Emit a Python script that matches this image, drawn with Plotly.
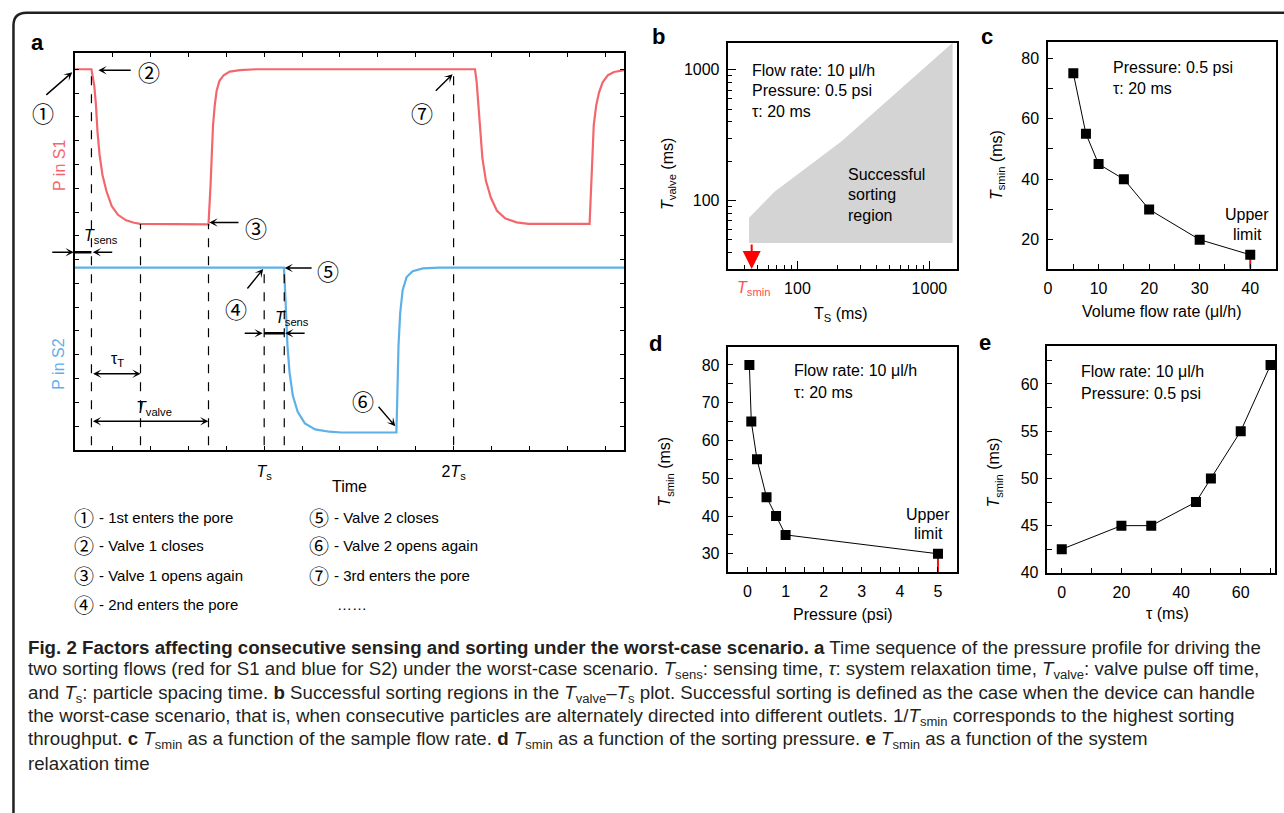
import math
import plotly.graph_objects as go

W, H = 1284, 813
FONT = "Liberation Sans, Arial, sans-serif"
CAPFONT = "Liberation Sans, Arial, sans-serif"
CIRC = "Noto Sans CJK JP, DejaVu Sans, sans-serif"
RED = "#f2676c"
BLUE = "#5db0e8"

def fx(x):
    return x / W

def fy(y):
    return 1 - y / H

# ---------------- data ----------------
# Panel a: schematic pressure profiles (time in units of Ts, pressure arbitrary)
red_time = [0, 0.088, 0.094, 0.103, 0.112, 0.120, 0.131, 0.146, 0.167, 0.195, 0.228, 0.271, 0.313, 0.346,
            0.706, 0.711, 0.717, 0.724, 0.730, 0.739, 0.749, 0.764, 0.786, 0.818, 0.872, 0.958,
            2.113, 2.122, 2.130, 2.139, 2.152, 2.171, 2.197, 2.229, 2.272, 2.332, 2.396,
            2.718, 2.723, 2.732, 2.740, 2.753, 2.768, 2.787, 2.815, 2.847, 2.901]
red_p = [9.60, 9.60, 9.43, 9.18, 8.69, 8.02, 7.44, 6.94, 6.53, 6.15, 5.93, 5.79, 5.73, 5.70,
         5.69, 6.03, 6.69, 7.52, 8.19, 8.69, 9.06, 9.31, 9.45, 9.54, 9.58, 9.60,
         9.60, 9.27, 8.69, 8.02, 7.36, 6.78, 6.36, 6.03, 5.84, 5.74, 5.70,
         5.70, 6.36, 7.36, 8.19, 8.69, 9.02, 9.27, 9.45, 9.53, 9.58]
blue_time = [0, 1.104, 1.108, 1.114, 1.123, 1.134, 1.151, 1.177, 1.215, 1.269, 1.344, 1.408,
             1.698, 1.703, 1.709, 1.718, 1.731, 1.752, 1.784, 1.838, 1.924, 2.9]
blue_p = [4.60, 4.60, 4.28, 3.45, 2.62, 1.95, 1.37, 0.96, 0.67, 0.52, 0.46, 0.44,
          0.44, 1.37, 2.62, 3.45, 4.03, 4.36, 4.51, 4.58, 4.60, 4.60]
guide_t = [0.088, 0.347, 0.706, 1.0, 1.106, 2.0]
guide_top = [9.6, 5.7, 5.7, 4.6, 4.6, 9.6]
guide_bottom = 0.12
a_tick_labels = ["<i>T</i><sub>s</sub>", "2<i>T</i><sub>s</sub>"]

# Panel b: successful sorting region
region_ts = [43, 43, 67, 215, 1500, 1500]
region_tvalve = [47.5, 74, 117, 283, 1610, 47.5]
tsmin_b = 45

# Panel c
flow_rate = [5, 7.5, 10, 15, 20, 30, 40]
tsmin_c = [75, 55, 45, 40, 30, 20, 15]
# Panel d
pressure = [0.05, 0.1, 0.25, 0.5, 0.75, 1, 5]
tsmin_d = [80, 65, 55, 45, 40, 35, 30]
# Panel e
tau = [0, 20, 30, 45, 50, 60, 70]
tsmin_e = [42.5, 45, 45, 47.5, 50, 55, 62]

# ---------------- figure ----------------
fig = go.Figure()
fig.add_trace(go.Scatter(x=red_time, y=red_p, mode="lines", line=dict(color=RED, width=2.2),
                         xaxis="x", yaxis="y", showlegend=False))
fig.add_trace(go.Scatter(x=blue_time, y=blue_p, mode="lines", line=dict(color=BLUE, width=2.2),
                         xaxis="x", yaxis="y", showlegend=False))
fig.add_trace(go.Scatter(x=region_ts, y=region_tvalve, mode="lines", fill="toself", fillcolor="#d4d4d4",
                         line=dict(width=0, color="#d4d4d4"), xaxis="x2", yaxis="y2", showlegend=False))
mk = dict(symbol="square", size=10, color="black")
fig.add_trace(go.Scatter(x=flow_rate, y=tsmin_c, mode="lines+markers", marker=mk, line=dict(color="black", width=1),
                         xaxis="x3", yaxis="y3", showlegend=False))
fig.add_trace(go.Scatter(x=pressure, y=tsmin_d, mode="lines+markers", marker=mk, line=dict(color="black", width=1),
                         xaxis="x4", yaxis="y4", showlegend=False))
fig.add_trace(go.Scatter(x=tau, y=tsmin_e, mode="lines+markers", marker=mk, line=dict(color="black", width=1),
                         xaxis="x5", yaxis="y5", showlegend=False))

axbase = dict(showline=True, linecolor="black", linewidth=1.5, mirror=True, showgrid=False, zeroline=False,
              ticks="inside", ticklen=5, tickcolor="black", tickwidth=1.2,
              tickfont=dict(family=FONT, size=16, color="black"), ticklabelstandoff=4)

a_ticks = [round(0.2 * i, 2) for i in range(15)]
a_text = [a_tick_labels[0] if v == 1.0 else (a_tick_labels[1] if v == 2.0 else "") for v in a_ticks]

yr_c = [10.4, 85.3]
yr_d = [25.2, 84.8]
log_minor = [40, 50, 60, 70, 80, 90, 200, 300, 400, 500, 600, 700, 800, 900]

layout = dict(
    width=W, height=H, margin=dict(l=0, r=0, t=0, b=0), paper_bgcolor="white", plot_bgcolor="white",
    xaxis=dict(axbase, domain=[fx(71), fx(622)], range=[0, 2.9], anchor="y", tickmode="array",
               tickvals=a_ticks, ticktext=a_text, mirror="allticks", ticklen=4, ticklabelstandoff=6),
    yaxis=dict(axbase, domain=[fy(455), fy(54)], range=[0, 10], anchor="x", tick0=0, dtick=0.6,
               showticklabels=False, mirror="allticks", ticklen=4),
    xaxis2=dict(axbase, type="log", domain=[fx(726.7), fx(956)], range=[math.log10(30), math.log10(1620)],
                anchor="y2", tickmode="array", tickvals=[100, 1000], ticklen=8,
                minor=dict(tickmode="array", tickvals=log_minor, ticks="inside", ticklen=4, tickcolor="black")),
    yaxis2=dict(axbase, type="log", domain=[fy(272), fy(43.3)], range=[math.log10(30), math.log10(1610)],
                anchor="x2", tickmode="array", tickvals=[100, 1000], ticklen=8,
                minor=dict(tickmode="array", tickvals=log_minor, ticks="inside", ticklen=4, tickcolor="black")),
    xaxis3=dict(axbase, domain=[fx(1047.3), fx(1276)], range=[0, 45.1], anchor="y3", tickmode="array",
                tickvals=[0, 10, 20, 30, 40], minor=dict(dtick=5, tick0=0, ticks="inside", ticklen=5, tickcolor="black")),
    yaxis3=dict(axbase, domain=[fy(271.7), fy(42.7)], range=yr_c, anchor="x3", tickmode="array",
                tickvals=[20, 40, 60, 80], minor=dict(dtick=10, tick0=0, ticks="inside", ticklen=5, tickcolor="black")),
    xaxis4=dict(axbase, domain=[fx(726.7), fx(956)], range=[-0.5, 5.5], anchor="y4", dtick=1, tick0=0,
                minor=dict(dtick=0.5, tick0=0, ticks="inside", ticklen=5, tickcolor="black")),
    yaxis4=dict(axbase, domain=[fy(578.3), fy(350.7)], range=yr_d, anchor="x4", dtick=10, tick0=0,
                minor=dict(dtick=5, tick0=0, ticks="inside", ticklen=5, tickcolor="black")),
    xaxis5=dict(axbase, domain=[fx(1046.7), fx(1275)], range=[-4.8, 71.5], anchor="y5", tickmode="array",
                tickvals=[0, 20, 40, 60], minor=dict(dtick=10, tick0=0, ticks="inside", ticklen=5, tickcolor="black")),
    yaxis5=dict(axbase, domain=[fy(579.3), fy(350)], range=[40, 64], anchor="x5", dtick=5, tick0=0,
                minor=dict(dtick=2.5, tick0=0, ticks="inside", ticklen=5, tickcolor="black")),
)
fig.update_layout(**layout)

shapes = []
path = "M {:.5f},{:.5f} L {:.5f},{:.5f} Q {:.5f},{:.5f} {:.5f},{:.5f} L {:.5f},{:.5f}".format(
    fx(9.5), fy(830), fx(9.5), fy(26), fx(9.5), fy(13), fx(22.5), fy(13), fx(1300), fy(13))
shapes.append(dict(type="path", path=path, xref="paper", yref="paper", line=dict(color="#231f20", width=2.5)))
for t, top in zip(guide_t, guide_top):
    shapes.append(dict(type="line", xref="x", yref="y", x0=t, x1=t, y0=guide_bottom, y1=top,
                       line=dict(color="black", width=1.2, dash="dash"), layer="above"))
shapes.append(dict(type="line", xref="x", yref="paper", x0=0, x1=guide_t[0], y0=fy(255), y1=fy(255),
                   line=dict(color="black", width=2.5)))
shapes.append(dict(type="line", xref="x", yref="paper", x0=guide_t[3], x1=guide_t[4], y0=fy(337), y1=fy(337),
                   line=dict(color="black", width=2.5)))
shapes.append(dict(type="line", xref="x3", yref="y3", x0=flow_rate[-1], x1=flow_rate[-1], y0=yr_c[0], y1=tsmin_c[-1],
                   line=dict(color="#e8161b", width=2), layer="below"))
shapes.append(dict(type="line", xref="x4", yref="y4", x0=pressure[-1], x1=pressure[-1], y0=yr_d[0], y1=tsmin_d[-1],
                   line=dict(color="#e8161b", width=2), layer="below"))
fig.update_layout(shapes=shapes)

ann = []

def txt(x, y, s, size=16, color="black", xanchor="center", yanchor="middle", family=FONT, angle=0):
    ann.append(dict(x=fx(x), y=fy(y), xref="paper", yref="paper", text=s, showarrow=False,
                    font=dict(size=size, color=color, family=family), xanchor=xanchor, yanchor=yanchor,
                    textangle=angle))

def arrow(tipx, tipy, tailx, taily, color="black", head=3, size=1.0, width=1.4, both=False):
    d = dict(x=fx(tipx), y=fy(tipy), xref="paper", yref="paper", ax=tailx - tipx, ay=taily - tipy,
             axref="pixel", ayref="pixel", showarrow=True, arrowhead=head, arrowsize=size, arrowwidth=width,
             arrowcolor=color, text="", standoff=0, startstandoff=0)
    if both:
        d.update(arrowside="end+start", startarrowhead=head, startarrowsize=size)
    ann.append(d)

# panel letters
txt(34, 43, "<b>a</b>", size=22)
txt(657, 37, "<b>b</b>", size=22)
txt(986, 37, "<b>c</b>", size=22)
txt(654, 347, "<b>d</b>", size=22)
txt(984, 346, "<b>e</b>", size=22)

# panel a labels
txt(55, 167, "P in S1", size=16, color=RED, angle=-90)
txt(55, 368, "P in S2", size=16, color=BLUE, angle=-90)
txt(347, 492, "Time", size=16)

circ = ["\u2460", "\u2461", "\u2462", "\u2463", "\u2464", "\u2465", "\u2466"]
CS = 22
arrow(68.5, 73, 41, 97); txt(39, 113, circ[0], size=CS, family=CIRC)
arrow(94.7, 71, 128.5, 71); txt(145, 72, circ[1], size=CS, family=CIRC)
arrow(206, 225, 236.6, 225); txt(253, 230, circ[2], size=CS, family=CIRC)
arrow(260, 272, 243, 293); txt(233, 311, circ[3], size=CS, family=CIRC)
arrow(281.5, 271, 310, 271); txt(325, 273, circ[4], size=CS, family=CIRC)
arrow(392.5, 431, 374.5, 410); txt(360, 404, circ[5], size=CS, family=CIRC)
arrow(450, 75, 431.7, 93); txt(419, 113, circ[6], size=CS, family=CIRC)

arrow(70, 255, 47, 255); arrow(89, 255, 110, 255)
txt(97, 239, "<i>T</i><sub>sens</sub>", size=16)
arrow(259.5, 337, 240, 337); arrow(282, 337, 303, 337)
txt(289, 322, "<i>T</i><sub>sens</sub>", size=16)
arrow(137, 378, 88, 378, both=True)
txt(114, 364, "\u03c4<sub>T</sub>", size=16)
arrow(205, 426, 88, 426, both=True)
txt(150, 413, "<i>T</i><sub>valve</sub>", size=16)

left_items = ["- 1st enters the pore", "- Valve 1 closes", "- Valve 1 opens again", "- 2nd enters the pore"]
right_items = ["- Valve 2 closes", "- Valve 2 opens again", "- 3rd enters the pore"]
rows_y = [523, 552, 582, 611]
for i, s in enumerate(left_items):
    txt(80, rows_y[i], circ[i], size=20, family=CIRC)
    txt(93, rows_y[i], s, size=15, xanchor="left")
for i, s in enumerate(right_items):
    txt(316, rows_y[i], circ[i + 4], size=20, family=CIRC)
    txt(329, rows_y[i], s, size=15, xanchor="left")
txt(332, rows_y[3], "\u2026\u2026", size=15, xanchor="left")

for i, s in enumerate(["Flow rate: 10 \u03bcl/h", "Pressure: 0.5 psi", "\u03c4: 20 ms"]):
    txt(748, 71 + 21 * i, s, size=16, xanchor="left")
for i, s in enumerate(["Successful", "sorting", "region"]):
    txt(845, 176 + 21 * i, s, size=16, xanchor="left")
ann.append(dict(x=math.log10(tsmin_b), y=math.log10(30), xref="x2", yref="y2", ax=0, ay=-26, axref="pixel",
                ayref="pixel", showarrow=True, arrowhead=2, arrowsize=1.8, arrowwidth=2, arrowcolor="#ff0000",
                text="", standoff=0))
txt(752, 292, "<i>T</i><sub>smin</sub>", size=16, color="#ff4d4d")
txt(840, 318, "T<sub>S</sub> (ms)", size=16)
txt(666, 176, "<i>T</i><sub>valve</sub> (ms)", size=16, angle=-90)

txt(1110, 68, "Pressure: 0.5 psi", size=16, xanchor="left")
txt(1110, 89, "\u03c4: 20 ms", size=16, xanchor="left")
txt(1247, 217, "Upper", size=16)
txt(1247, 237, "limit", size=16)
txt(1162, 315, "Volume flow rate (\u03bcl/h)", size=16)
txt(996, 167, "<i>T</i><sub>smin</sub> (ms)", size=16, angle=-90)

txt(790, 375, "Flow rate: 10 \u03bcl/h", size=16, xanchor="left")
txt(790, 397, "\u03c4: 20 ms", size=16, xanchor="left")
txt(927, 520, "Upper", size=16)
txt(927, 539, "limit", size=16)
txt(842, 621, "Pressure (psi)", size=16)
txt(664, 477, "<i>T</i><sub>smin</sub> (ms)", size=16, angle=-90)

txt(1078, 376, "Flow rate: 10 \u03bcl/h", size=16, xanchor="left")
txt(1078, 398, "Pressure: 0.5 psi", size=16, xanchor="left")
txt(1167, 620, "\u03c4 (ms)", size=16)
txt(994, 478, "<i>T</i><sub>smin</sub> (ms)", size=16, angle=-90)

cap = [
    "<b>Fig. 2 Factors affecting consecutive sensing and sorting under the worst-case scenario. a</b> Time sequence of the pressure profile for driving the",
    "two sorting flows (red for S1 and blue for S2) under the worst-case scenario. <i>T</i><sub>sens</sub>: sensing time, <i>\u03c4</i>: system relaxation time, <i>T</i><sub>valve</sub>: valve pulse off time,",
    "and <i>T</i><sub>s</sub>: particle spacing time. <b>b</b> Successful sorting regions in the <i>T</i><sub>valve</sub>\u2013<i>T</i><sub>s</sub> plot. Successful sorting is defined as the case when the device can handle",
    "the worst-case scenario, that is, when consecutive particles are alternately directed into different outlets. 1/<i>T</i><sub>smin</sub> corresponds to the highest sorting",
    "throughput. <b>c</b> <i>T</i><sub>smin</sub> as a function of the sample flow rate. <b>d</b> <i>T</i><sub>smin</sub> as a function of the sorting pressure. <b>e</b> <i>T</i><sub>smin</sub> as a function of the system",
    "relaxation time",
]
cap_y = [655, 678, 702, 725, 748, 772]
for s, y in zip(cap, cap_y):
    txt(22, y, s, size=18.7, color="#231f20", xanchor="left", family=CAPFONT)

fig.update_layout(annotations=ann)
fig.write_html("out.html", config={"displayModeBar": False},
               post_script="document.body.style.margin='0';document.body.style.padding='0';document.body.style.overflow='hidden';")
